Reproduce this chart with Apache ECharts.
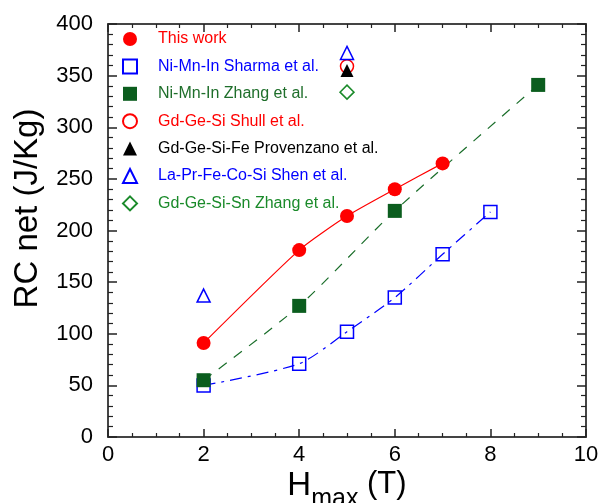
<!DOCTYPE html>
<html>
<head>
<meta charset="utf-8">
<script src="https://cdn.jsdelivr.net/npm/echarts@6/dist/echarts.min.js"></script>
<style>html,body{margin:0;padding:0;background:#fff}#c{width:600px;height:503px}</style>
</head>
<body>
<div id="c"></div>
<script>
// Data
const thisWorkX = [2, 4, 5, 6, 7];
const thisWorkY = [91, 181, 214, 240, 265];
const sharmaX = [2, 4, 5, 6, 7, 8];
const sharmaY = [50, 71, 102, 135, 177, 218];
const zhangNiX = [2, 4, 6, 9];
const zhangNiY = [55, 127, 219, 341];
const shullX = [5];
const shullY = [359];
const provenzanoX = [5];
const provenzanoY = [355];
const shenX = [2, 5];
const shenY = [137, 372];
const zhangGdX = [5];
const zhangGdY = [334];
const xTicks = [0, 2, 4, 6, 8, 10];
const yTicks = [0, 50, 100, 150, 200, 250, 300, 350, 400];

const names = ['This work', 'Ni-Mn-In Sharma et al.', 'Ni-Mn-In Zhang et al.', 'Gd-Ge-Si Shull et al.',
  'Gd-Ge-Si-Fe Provenzano et al.', 'La-Pr-Fe-Co-Si Shen et al.', 'Gd-Ge-Si-Sn Zhang et al.'];
const textColors = ['#ff0000', '#0000ff', '#1e6e2a', '#ff0000', '#000000', '#0000ff', '#1a8a2a'];

function pts(xs, ys) { return xs.map((x, i) => [x, ys[i]]); }

const FONT = 'Liberation Sans, Arial, sans-serif';
const axisLine = { show: true, onZero: false, lineStyle: { color: '#444', width: 2 } };
function xAx(pos, showLabel) {
  return {
    type: 'value', position: pos, min: xTicks[0], max: xTicks[xTicks.length - 1], interval: 2,
    axisLine: axisLine,
    axisTick: { show: true, inside: true, length: 8, lineStyle: { color: '#222', width: 1.5 } },
    minorTick: { show: true, splitNumber: 4, length: 4, lineStyle: { color: '#222', width: 1.2 } },
    splitLine: { show: false }, minorSplitLine: { show: false },
    axisLabel: { show: showLabel, fontSize: 22, color: '#000', fontFamily: FONT, margin: 7 },
    name: showLabel ? '{a|H}{b|max}{c| (T)}' : '',
    nameLocation: 'middle', nameGap: 32, nameMoveOverlap: false,
    nameTextStyle: {
      fontFamily: FONT, color: '#000',
      rich: {
        a: { fontSize: 33, fontFamily: FONT, color: '#000', verticalAlign: 'top', lineHeight: 34 },
        b: { fontSize: 25, fontFamily: FONT, color: '#000', padding: [18, 0, 0, 0], verticalAlign: 'top', lineHeight: 34 },
        c: { fontSize: 31, fontFamily: FONT, color: '#000', verticalAlign: 'top', lineHeight: 34 }
      }
    }
  };
}
function yAx(pos, showLabel) {
  return {
    type: 'value', position: pos, min: yTicks[0], max: yTicks[yTicks.length - 1], interval: 50,
    axisLine: axisLine,
    axisTick: { show: true, inside: true, length: 9, lineStyle: { color: '#222', width: 1.5 } },
    minorTick: { show: true, splitNumber: 5, length: 5, lineStyle: { color: '#222', width: 1.2 } },
    splitLine: { show: false }, minorSplitLine: { show: false },
    axisLabel: { show: showLabel, fontSize: 22, color: '#000', fontFamily: FONT, margin: 15 },
    name: showLabel ? 'RC net (J/Kg)' : '',
    nameLocation: 'middle', nameRotate: 90, nameGap: 64, nameMoveOverlap: false,
    nameTextStyle: { fontSize: 33, fontFamily: FONT, color: '#000', padding: [0, 0, 0, 44] }
  };
}

const chart = echarts.init(document.getElementById('c'), null, { renderer: 'canvas' });
chart.setOption({
  animation: false,
  backgroundColor: '#fff',
  grid: { left: 108, right: 14, top: 24, bottom: 66, containLabel: false, outerBoundsMode: 'none' },
  xAxis: [xAx('bottom', true), xAx('top', false)],
  yAxis: [yAx('left', true), yAx('right', false)],
  legend: {
    orient: 'vertical', left: 122, top: 31, padding: 0,
    itemWidth: 14, itemHeight: 14, itemGap: 11.4,
    textStyle: { fontSize: 16, fontFamily: FONT, padding: [0, 0, 0, 16] },
    selectedMode: false,
    data: names.map((n, i) => ({ name: n, textStyle: { color: textColors[i] } }))
  },
  series: [
    { name: 'fit-red', type: 'line', smooth: 0.2, showSymbol: false, silent: true,
      data: pts(thisWorkX, thisWorkY), lineStyle: { color: '#ff0000', width: 1.2 }, z: 1 },
    { name: 'fit-green', type: 'line', smooth: 0.25, showSymbol: false, silent: true,
      data: pts(zhangNiX, zhangNiY), lineStyle: { color: '#1a6e2a', width: 1.2, type: [10, 9] }, z: 1 },
    { name: 'fit-blue', type: 'line', smooth: 0.25, showSymbol: false, silent: true,
      data: pts(sharmaX, sharmaY), lineStyle: { color: '#0000ff', width: 1.2, type: [12, 6, 3, 6] }, z: 1 },
    { name: names[1], type: 'scatter', symbol: 'rect', symbolSize: 13, data: pts(sharmaX, sharmaY),
      itemStyle: { color: 'rgba(255,255,255,0)', borderColor: '#0000ff', borderWidth: 1.5, opacity: 1 }, z: 3 },
    { name: names[2], type: 'scatter', symbol: 'rect', symbolSize: 14, data: pts(zhangNiX, zhangNiY),
      itemStyle: { color: '#0b5d1e', opacity: 1 }, z: 4 },
    { name: names[0], type: 'scatter', symbol: 'circle', symbolSize: 14, data: pts(thisWorkX, thisWorkY),
      itemStyle: { color: '#ff0000', opacity: 1 }, z: 5 },
    { name: names[3], type: 'scatter', symbol: 'circle', symbolSize: 13, data: pts(shullX, shullY),
      itemStyle: { color: 'rgba(255,255,255,0)', borderColor: '#ff0000', borderWidth: 1.5, opacity: 1 }, z: 3 },
    { name: names[4], type: 'scatter', symbol: 'triangle', symbolSize: 13, data: pts(provenzanoX, provenzanoY),
      itemStyle: { color: '#000', opacity: 1 }, z: 4 },
    { name: names[5], type: 'scatter', symbol: 'triangle', symbolSize: 13, data: pts(shenX, shenY),
      itemStyle: { color: 'rgba(255,255,255,0)', borderColor: '#0000ff', borderWidth: 1.5, opacity: 1 }, z: 3 },
    { name: names[6], type: 'scatter', symbol: 'diamond', symbolSize: 14, data: pts(zhangGdX, zhangGdY),
      itemStyle: { color: 'rgba(255,255,255,0)', borderColor: '#1a8a2a', borderWidth: 1.5, opacity: 1 }, z: 3 }
  ]
});
</script>
</body>
</html>
